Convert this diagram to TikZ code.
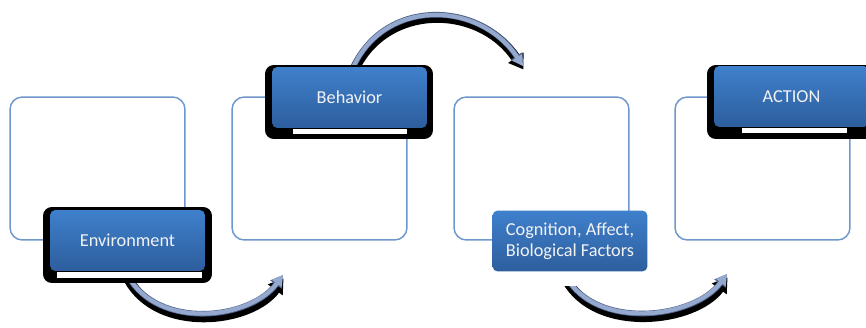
\documentclass[tikz,border=0pt]{standalone}
\usepackage{fontspec}
\setmainfont{Carlito}
\usetikzlibrary{calc,arrows.meta,backgrounds}
\definecolor{panelc}{HTML}{6F97CB}
\definecolor{cardtop}{HTML}{3F80CC}
\definecolor{cardbot}{HTML}{2D5E9D}
\definecolor{flowc}{HTML}{95A9CE}
\definecolor{flowedge}{HTML}{4E6088}
\definecolor{cardtext}{HTML}{F2F2F2}
\tikzset{
  panel/.style={draw=panelc, line width=0.85pt, rounded corners=7pt,
    minimum width=3.5cm, minimum height=2.86cm, inner sep=0pt, outer sep=0pt},
  card/.style={top color=cardtop, bottom color=cardbot, rounded corners=3pt,
    minimum width=3.1cm, minimum height=1.22cm, inner sep=0pt, outer sep=0pt,
    text=cardtext, font=\fontsize{10.4}{11.9}\selectfont, align=center},
  backing/.style={fill=black, rounded corners=5pt},
  flow/.style={draw=flowc, line width=2.4pt, -{Triangle[length=6pt,width=6.5pt]}},
  flowrim/.style={draw=flowedge, line width=3.2pt, -{Triangle[length=6.8pt,width=7.6pt]}},
  flowshade/.style={draw=black, line width=5.5pt, -{Triangle[length=8pt,width=10pt]},
    transform canvas={xshift=0.3pt,yshift=-2pt}},
}

\begin{document}
\begin{tikzpicture}[x=0.02cm,y=-0.02cm]
  \useasboundingbox (0,0) rectangle (866,328);
  \clip (0,0) rectangle (866,328);

  % the four cards
  \node[card] (env) at (127.5,240.5) {Environment};
  \node[card] (beh) at (349.5,97.5)  {Behavior};
  \node[card] (cog) at (570,241)     {Cognition, Affect,\\Biological Factors};
  \node[card] (act) at (791.5,96.5)  {ACTION};

  \coordinate (t1) at (283,275);   % tip env -> beh
  \coordinate (t2) at (523,66);    % tip beh -> cog
  \coordinate (t3) at (727,274);   % tip cog -> act

  \begin{scope}[on background layer]
    \clip (0,0) rectangle (866,328);
    \foreach \n/\x in {1/97.5,2/319.5,3/541.5,4/762.5}
      \node[panel] (p\n) at (\x,168.5) {};

    \foreach \st in {flowshade,flowrim,flow} {
      \draw[\st] ($(env.south)+(0.5,5)$) .. controls +(30,54) and +(-33,45) .. (t1);
      \draw[\st] ($(beh.north)+(0.5,8)$) .. controls +(28,-77) and +(-45,-68) .. (t2);
      \draw[\st] ($(cog.south)+(-4,5)$) .. controls +(30,54) and +(-33,45) .. (t3);
    }

    \fill[backing] ($(env.north west)+(-7,-3)$) rectangle ($(env.south east)+(7,12)$);
    \fill[white] ($(env.south west)+(7,1)$) rectangle ($(env.south east)+(-3,7)$);
    \fill[backing] ($(beh.north west)+(-7,-2)$) rectangle ($(beh.south east)+(6,11)$);
    \fill[white] ($(beh.south west)+(21,1)$) rectangle ($(beh.south east)+(-20,6)$);
    \fill[backing] ($(act.north west)+(-7,-1)$) rectangle ($(act.south east)+(6,12)$);
    \fill[white] ($(act.south west)+(28,1)$) rectangle ($(act.south east)+(-22,6)$);
    \fill[white] ($(cog.south west)+(10,1)$) rectangle ($(cog.south east)+(-10,15)$);
  \end{scope}
\end{tikzpicture}
\end{document}
